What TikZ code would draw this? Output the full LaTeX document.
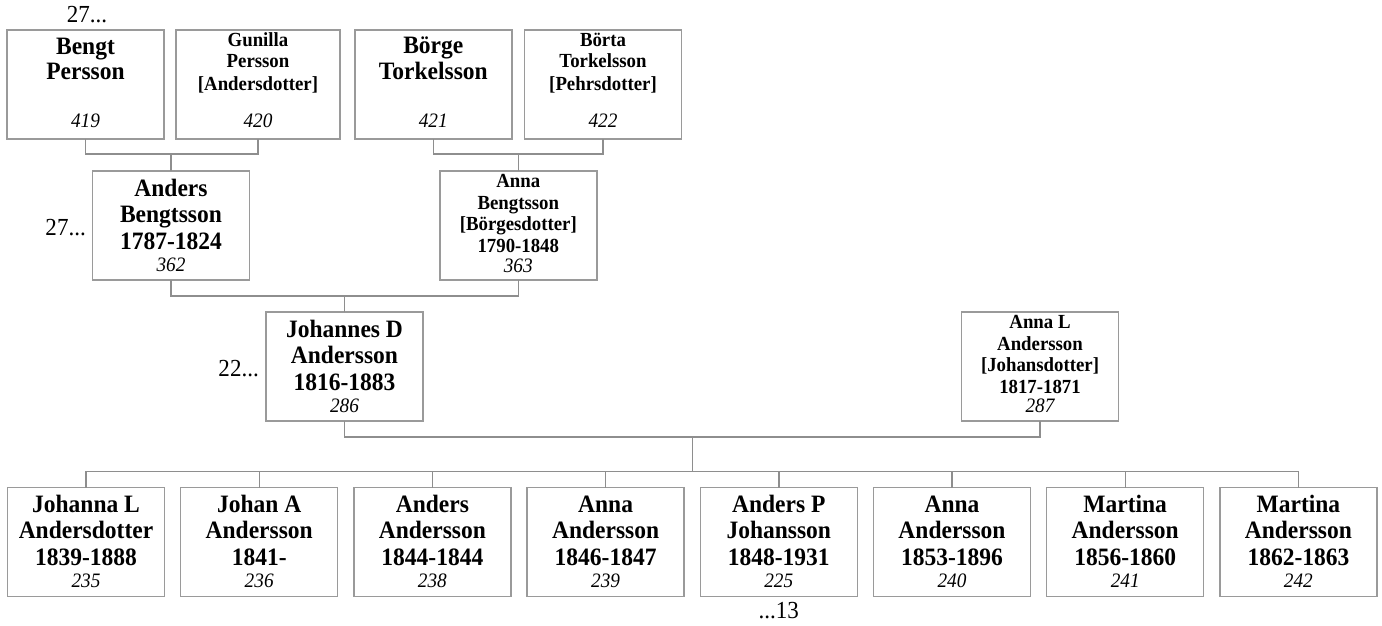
\documentclass[tikz,border=0pt]{standalone}
\usepackage{fontspec}
\setmainfont{Liberation Serif}[FakeStretch=0.94]
\definecolor{boxgray}{HTML}{9A9A9A}
\definecolor{linegray}{HTML}{8E8E8E}
\tikzset{
  pbox/.style={draw=boxgray, line width=1.4pt, minimum width=157pt, minimum height=109pt, inner sep=0pt, outer sep=0pt, fill=white},
  conn/.style={draw=linegray, line width=1.4pt},
  big/.style={font=\fontsize{25}{26}\selectfont\bfseries, inner sep=0pt, anchor=base},
  small/.style={font=\fontsize{20}{21}\selectfont\bfseries, inner sep=0pt, anchor=base},
  num/.style={font=\fontsize{20.5}{21}\selectfont\itshape, inner sep=0pt, anchor=base},
  lab/.style={font=\fontsize{24.5}{25}\selectfont, inner sep=0pt, anchor=base},
}
\newcommand\txtline[5]{\node[#4] (#1#2) at ([yshift=-#3pt]#1.north) {#5};}
\begin{document}
\begin{tikzpicture}[x=1pt,y=-1pt]
\useasboundingbox (0,0) rectangle (1382,626);
\fill[white] (0,0) rectangle (1382,626);

% ---------- generation 1 ----------
\node[pbox] (b1) at (85.5,84.5) {};
\txtline{b1}{a}{25}{big}{Bengt}
\txtline{b1}{b}{50}{big}{Persson}
\txtline{b1}{n}{98}{num}{419}

\node[pbox, minimum width=164pt] (b2) at (258,84.5) {};
\txtline{b2}{a}{17}{small}{Gunilla}
\txtline{b2}{b}{38}{small}{Persson}
\txtline{b2}{c}{60}{small}{[Andersdotter]}
\txtline{b2}{n}{98}{num}{420}

\node[pbox] (b3) at (433.3,84.5) {};
\txtline{b3}{a}{24}{big}{Börge}
\txtline{b3}{b}{50}{big}{Torkelsson}
\txtline{b3}{n}{98}{num}{421}

\node[pbox] (b4) at (603,84.5) {};
\txtline{b4}{a}{17}{small}{Börta}
\txtline{b4}{b}{38}{small}{Torkelsson}
\txtline{b4}{c}{60}{small}{[Pehrsdotter]}
\txtline{b4}{n}{98}{num}{422}

% ---------- generation 2 ----------
\node[pbox] (a1) at (171,225.5) {};
\txtline{a1}{a}{25}{big}{Anders}
\txtline{a1}{b}{51}{big}{Bengtsson}
\txtline{a1}{c}{78}{big}{1787-1824}
\txtline{a1}{n}{100}{num}{362}

\node[pbox] (a2) at (518.3,225.5) {};
\txtline{a2}{a}{16}{small}{Anna}
\txtline{a2}{b}{38}{small}{Bengtsson}
\txtline{a2}{c}{59}{small}{[Börgesdotter]}
\txtline{a2}{d}{81}{small}{1790-1848}
\txtline{a2}{n}{101}{num}{363}

% ---------- generation 3 ----------
\node[pbox] (j) at (344.5,366.5) {};
\txtline{j}{a}{25}{big}{Johannes D}
\txtline{j}{b}{51}{big}{Andersson}
\txtline{j}{c}{78}{big}{1816-1883}
\txtline{j}{n}{100}{num}{286}

\node[pbox] (al) at (1040,366.5) {};
\txtline{al}{a}{16}{small}{Anna L}
\txtline{al}{b}{38}{small}{Andersson}
\txtline{al}{c}{59}{small}{[Johansdotter]}
\txtline{al}{d}{81}{small}{1817-1871}
\txtline{al}{n}{100}{num}{287}

% ---------- children ----------
\foreach \i/\x/\na/\nb/\dt/\nr in {
  1/86/Johanna L/Andersdotter/1839-1888/235,
  2/259.2/Johan A/Andersson/1841-/236,
  3/432.4/Anders/Andersson/1844-1844/238,
  4/605.6/Anna/Andersson/1846-1847/239,
  5/778.8/Anders P/Johansson/1848-1931/225,
  6/952/Anna/Andersson/1853-1896/240,
  7/1125.2/Martina/Andersson/1856-1860/241,
  8/1298.4/Martina/Andersson/1862-1863/242}{
  \node[pbox] (c\i) at (\x,542) {};
  \txtline{c\i}{a}{25}{big}{\na}
  \txtline{c\i}{b}{51}{big}{\nb}
  \txtline{c\i}{c}{78}{big}{\dt}
  \txtline{c\i}{n}{100}{num}{\nr}
}

% ---------- labels ----------
\node[lab] (l1) at (87,23) {27...};
\node[lab, anchor=base east] (l2) at (86,235) {27...};
\node[lab, anchor=base east] (l3) at (259,376) {22...};
\node[lab] (l4) at (c5.south |- 0,618) {...13};

% ---------- connectors ----------
\coordinate (m1) at (a1.north |- 0,154);
\draw[conn] (b1.south) |- (m1) -| (b2.south);
\draw[conn] (m1) -- (a1.north);
\coordinate (m2) at (a2.north |- 0,154);
\draw[conn] (b3.south) |- (m2) -| (b4.south);
\draw[conn] (m2) -- (a2.north);

\coordinate (m3) at (j.north |- 0,296);
\draw[conn] (a1.south) |- (m3) -| (a2.south);
\draw[conn] (m3) -- (j.north);

\coordinate (m4) at (692.3,437);
\coordinate (cb) at (692.3,471.5);
\draw[conn] (j.south) |- (m4) -| (al.south);
\draw[conn] (m4) -- (cb);
\draw[conn] (c1.north) |- (cb) -| (c8.north);
\foreach \i in {2,...,7}{
  \draw[conn] (c\i.north) -- (c\i.north |- cb);
}
\end{tikzpicture}
\end{document}
